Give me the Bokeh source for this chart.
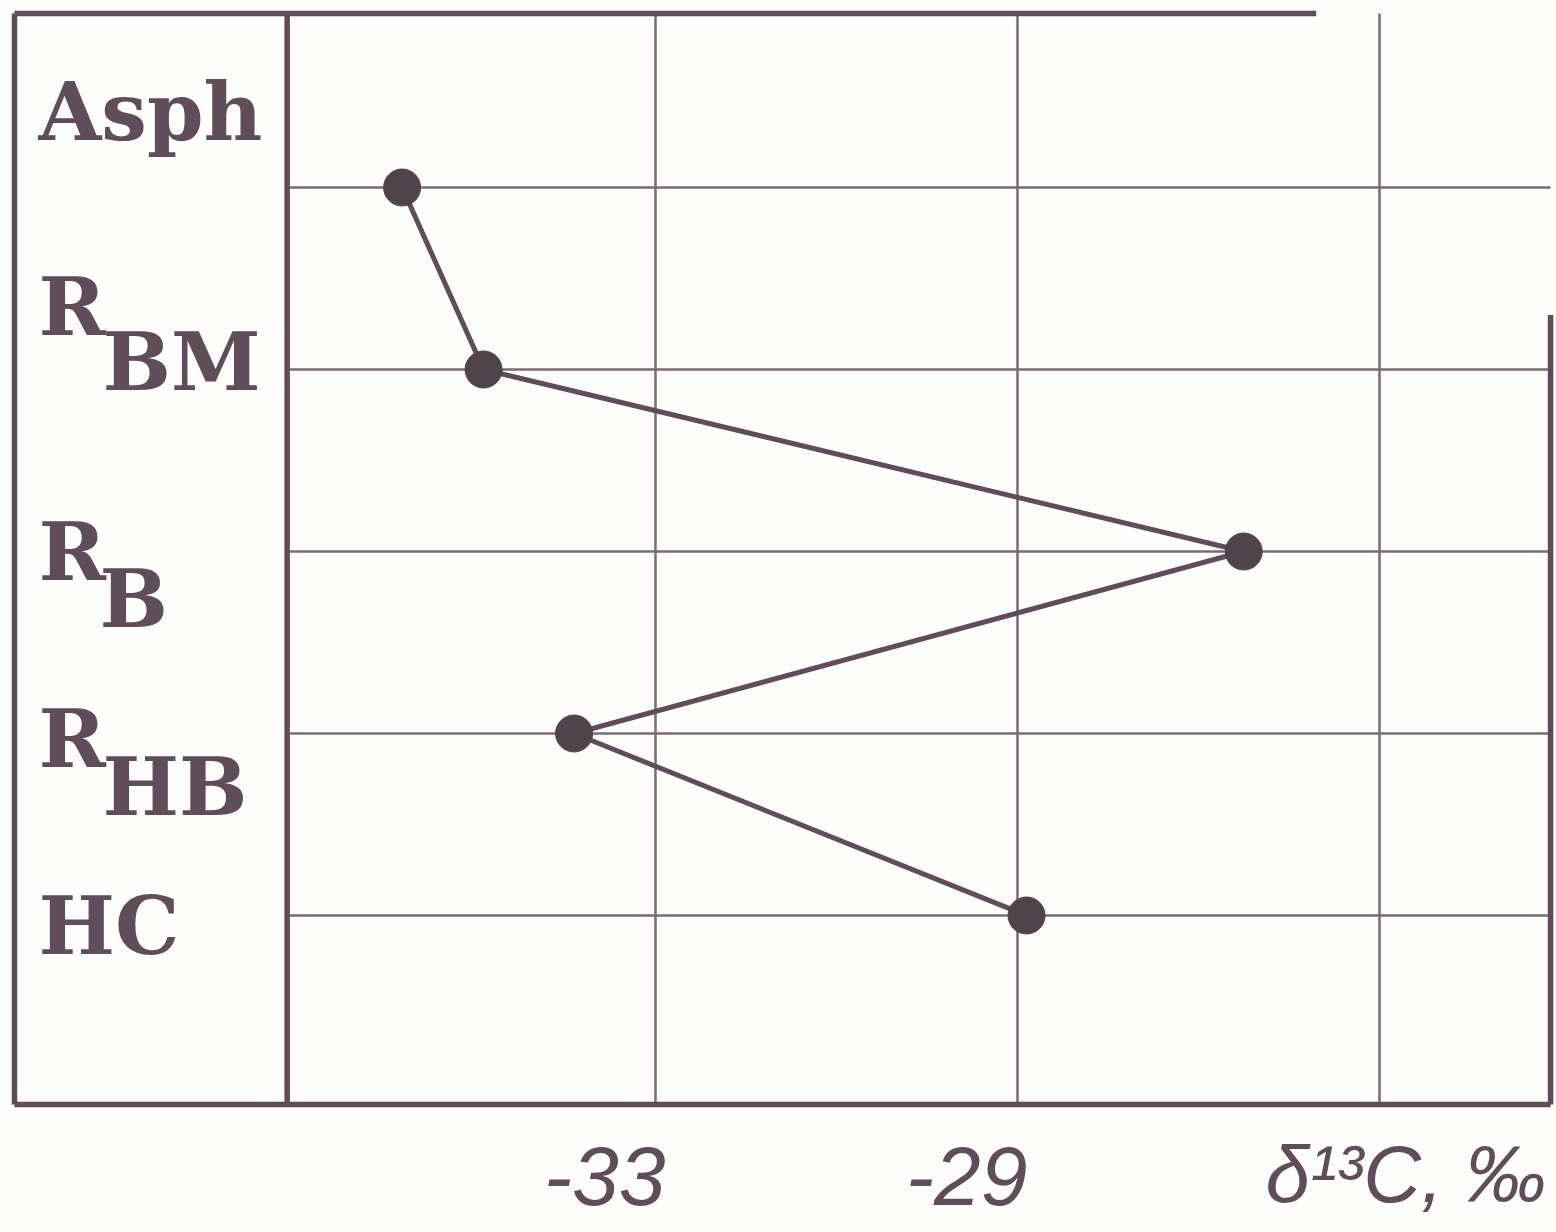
from bokeh.plotting import figure
from bokeh.models import Range1d
from bokeh.core.properties import value
from bokeh.embed import file_html
from bokeh.resources import INLINE

# ---------------- data ----------------
fractions = ["Asph", "R_BM", "R_B", "R_HB", "HC"]
label_main = ["Asph", "R", "R", "R", "HC"]
label_sub = ["", "BM", "B", "HB", ""]
delta13c = [-35.8, -34.9, -26.5, -33.9, -28.9]
rank = [5, 4, 3, 2, 1]
x_ticks = [-33, -29]
x_tick_labels = ["-33", "-29"]
grid_x = [-33, -29, -25]
axis_title = "δ¹³C, ‰"
axis_title_at = -25

# ---------------- layout / style ----------------
INK = "#5f4d5a"
GRID = "#7c6a77"
DOT = "#4f4449"
BG = "#fdfdfc"

X0, X1 = -40.2376, -23.0442     # frame x range (whole canvas)
Y0, Y1 = -0.7418, 6.0275        # frame y range (whole canvas)
BOX_L, BOX_R = -40.083, -23.11
BOX_B, BOX_T = -0.0385, 5.956
DIVIDER = -37.07
TOP_END = -25.7                 # top border fades out in the scan
RIGHT_START = 4.3               # right border faint above this

p = figure(width=1556, height=1232,
           x_range=Range1d(X0, X1), y_range=Range1d(Y0, Y1),
           output_backend="svg", toolbar_location=None,
           x_axis_location=None, y_axis_location=None,
           min_border_left=0, min_border_right=0,
           min_border_top=0, min_border_bottom=0)
p.background_fill_color = BG
p.border_fill_color = BG
p.outline_line_color = None
p.xgrid.visible = False
p.ygrid.visible = False

# grid lines (vertical at the x grid values, horizontal at each fraction)
p.segment(x0=grid_x, x1=grid_x, y0=[BOX_B] * len(grid_x), y1=[BOX_T] * len(grid_x),
          line_color=GRID, line_width=2.5)
p.segment(x0=[DIVIDER] * len(rank), x1=[BOX_R] * len(rank), y0=rank, y1=rank,
          line_color=GRID, line_width=2.5)

# box and divider
p.segment(x0=[BOX_L, BOX_L, BOX_R, BOX_L, DIVIDER],
          x1=[BOX_L, BOX_R, BOX_R, TOP_END, DIVIDER],
          y0=[BOX_B, BOX_B, BOX_B, BOX_T, BOX_B],
          y1=[BOX_T, BOX_B, RIGHT_START, BOX_T, BOX_T],
          line_color=INK, line_width=5.5)

# data
p.line(delta13c, rank, line_color=INK, line_width=5)
p.scatter(delta13c, rank, size=37, fill_color=DOT, line_color=DOT)

# category labels (typewriter-like), with subscripts
main_offsets = [-76, -63, 0, 5, 10]
sub_offsets = [0, -8, 47, 53, 0]
sub_x = [0, 88, 85, 88, 0]
for i in range(len(fractions)):
    p.text(x=[BOX_L], y=[rank[i]], text=[label_main[i]],
           x_offset=24, y_offset=main_offsets[i],
           text_font=value("DejaVu Serif"), text_font_style="bold",
           text_font_size="81px", text_color=INK,
           text_align="left", text_baseline="alphabetic")
    if label_sub[i]:
        p.text(x=[BOX_L], y=[rank[i]], text=[label_sub[i]],
               x_offset=sub_x[i], y_offset=sub_offsets[i],
               text_font=value("DejaVu Serif"), text_font_style="bold",
               text_font_size="81px", text_color=INK,
               text_align="left", text_baseline="alphabetic")

# x tick labels (hand-written below the box, to the left of each grid line)
p.text(x=x_ticks, y=[BOX_B] * len(x_ticks), text=x_tick_labels,
       x_offset=10, y_offset=71,
       text_font=value("Liberation Sans"), text_font_style="italic",
       text_font_size="84px", text_color=INK,
       text_align="right", text_baseline="alphabetic")

# axis title at the third grid line
p.text(x=[axis_title_at], y=[BOX_B], text=[axis_title],
       x_offset=26, y_offset=70,
       text_font=value("Liberation Sans"), text_font_style="italic",
       text_font_size="80px", text_color=INK,
       text_align="center", text_baseline="alphabetic")

open("out.html", "w").write(file_html(p, INLINE))
